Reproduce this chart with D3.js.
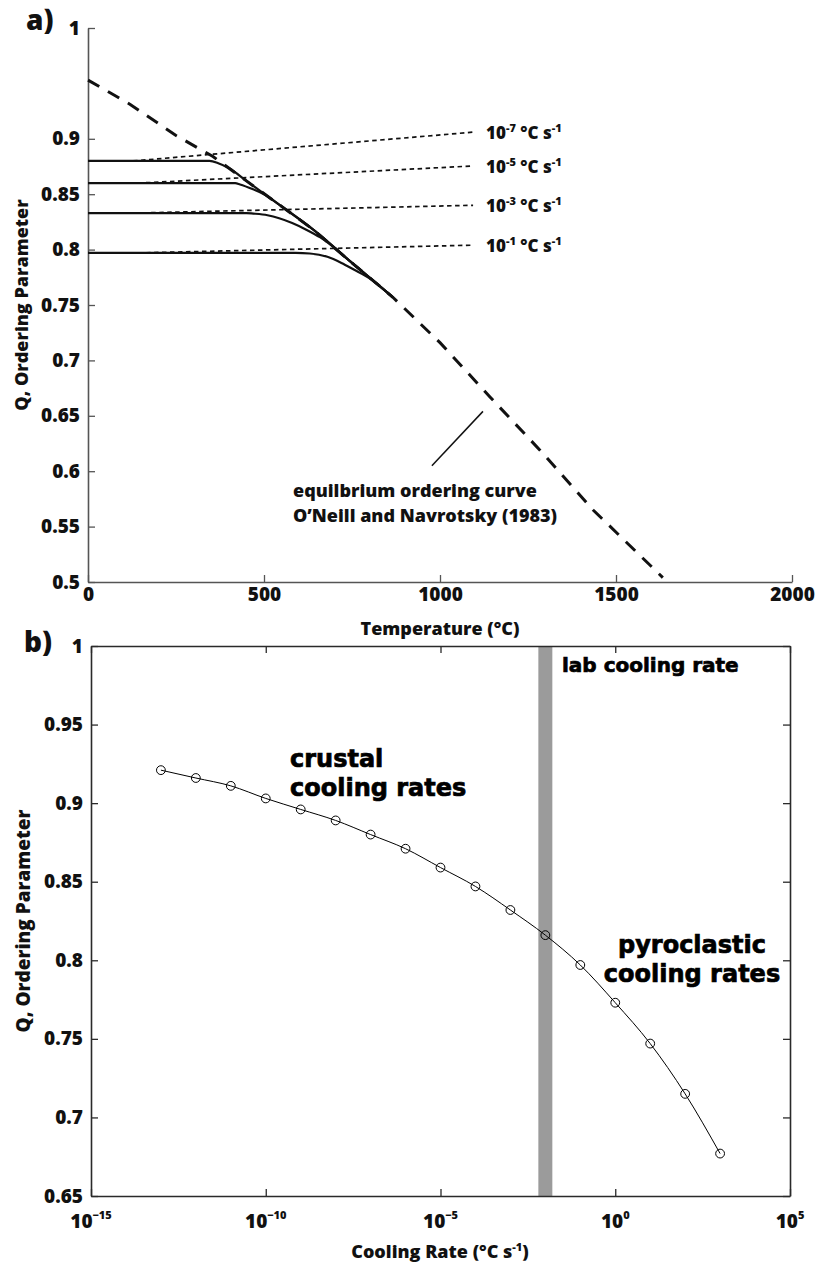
<!DOCTYPE html>
<html>
<head>
<meta charset="utf-8">
<script src="https://cdn.jsdelivr.net/npm/d3@7"></script>
<style>
  html, body { margin: 0; padding: 0; background: #fff; }
  svg { display: block; }
  text { font-family: 'Open Sans', 'Noto Sans', sans-serif; font-weight: 800; fill: #111; }
  .heavy { font-family: 'DejaVu Sans', sans-serif; font-weight: 700; fill: #000; stroke: #000; stroke-width: 0.7px; }
</style>
</head>
<body>
<script>
// ---------- Panel a: ordering parameter vs temperature ----------
const tempTicks = [0, 500, 1000, 1500, 2000];
const qTicksA = [0.5, 0.55, 0.6, 0.65, 0.7, 0.75, 0.8, 0.85, 0.9, 1];

// equilibrium ordering curve, O'Neill and Navrotsky (1983)
const eqTemp = [0, 120, 250, 355, 450, 550, 640, 750, 866, 1000, 1142, 1284, 1435, 1633];
const eqQ    = [0.953, 0.931, 0.903, 0.884, 0.862, 0.839, 0.818, 0.788, 0.757, 0.716, 0.667, 0.619, 0.565, 0.504];

// cooling paths (temperature, Q) for each cooling rate
const rateExpA = ["-7", "-5", "-3", "-1"];
const pathTemp7 = [0, 345, 370, 400, 450, 550, 640, 750, 866];
const pathQ7    = [0.880, 0.880, 0.878, 0.8736, 0.862, 0.839, 0.818, 0.788, 0.757];
const pathTemp5 = [0, 418, 432, 469, 500, 550, 640, 750, 866];
const pathQ5    = [0.860, 0.860, 0.8588, 0.8544, 0.850, 0.839, 0.818, 0.788, 0.757];
const pathTemp3 = [0, 450, 470, 510, 580, 620, 660, 750, 866];
const pathQ3    = [0.833, 0.833, 0.8325, 0.831, 0.824, 0.818, 0.811, 0.788, 0.757];
const pathTemp1 = [0, 590, 630, 680, 720, 755, 800, 866];
const pathQ1    = [0.797, 0.797, 0.7965, 0.7935, 0.788, 0.782, 0.774, 0.757];

// dotted leader lines from each plateau to its rate label
const leaderStartT = [128, 142, 134, 142];
const leaderEndT   = [1094, 1094, 1094, 1094];
const leaderEndQ   = [0.906, 0.8755, 0.840, 0.804];

// leader for the equilibrium curve note
const noteLeaderT = [977, 1122];
const noteLeaderQ = [0.605, 0.654];

// ---------- Panel b: ordering parameter vs cooling rate ----------
const rateExpB = [-13, -12, -11, -10, -9, -8, -7, -6, -5, -4, -3, -2, -1, 0, 1, 2, 3];
const orderQ   = [0.921, 0.916, 0.911, 0.903, 0.896, 0.889, 0.880, 0.871, 0.859, 0.847, 0.832, 0.816, 0.797, 0.773, 0.747, 0.715, 0.677];
const labRateExp = [-2.2, -1.8];
const rateTickExp = [-15, -10, -5, 0, 5];
const qTicksB = [0.65, 0.7, 0.75, 0.8, 0.85, 0.9, 0.95, 1];

const W = 817, H = 1273;
const svg = d3.select("body").append("svg").attr("width", W).attr("height", H);
svg.append("rect").attr("width", W).attr("height", H).attr("fill", "#fff");

const tickFont = 19;

function styleAxis(g, color) {
  g.attr("font-family", null).attr("font-size", null);
  g.selectAll(".domain").attr("stroke", color).attr("stroke-width", 1.6);
  g.selectAll(".tick line").attr("stroke", color).attr("stroke-width", 1.3);
  g.selectAll(".tick text").attr("font-size", tickFont).attr("fill", "#1a1a1a");
}

// ===== Panel a =====
const xA = d3.scaleLinear().domain([0, 2000]).range([88, 792]);
const yA = d3.scaleLinear().domain([0.5, 1]).range([582, 28]);

const gA = svg.append("g");

gA.append("g").attr("transform", `translate(0,${yA(0.5)})`)
  .call(d3.axisBottom(xA).tickValues(tempTicks).tickFormat(d3.format("d"))
        .tickSizeInner(-7).tickSizeOuter(0).tickPadding(5))
  .call(g => styleAxis(g, "#555"));

gA.append("g").attr("transform", `translate(${xA(0)},0)`)
  .call(d3.axisLeft(yA).tickValues(qTicksA).tickFormat(d => String(+d.toFixed(2)))
        .tickSizeInner(-7).tickSizeOuter(0).tickPadding(8))
  .call(g => styleAxis(g, "#555"));

// equilibrium curve (dashed)
const lineA = d3.line().x(d => xA(d[0])).y(d => yA(d[1]));
gA.append("path")
  .datum(d3.zip(eqTemp, eqQ))
  .attr("d", lineA)
  .attr("fill", "none").attr("stroke", "#111").attr("stroke-width", 3)
  .attr("stroke-dasharray", "13,10");

// dotted leaders
const plateauQ = [pathQ7[0], pathQ5[0], pathQ3[0], pathQ1[0]];
leaderStartT.forEach((t0, i) => {
  gA.append("line")
    .attr("x1", xA(t0)).attr("y1", yA(plateauQ[i]))
    .attr("x2", xA(leaderEndT[i])).attr("y2", yA(leaderEndQ[i]))
    .attr("stroke", "#111").attr("stroke-width", 1.7)
    .attr("stroke-dasharray", "4.5,3.5");
});

// cooling paths (solid)
const pathLine = d3.line().x(d => xA(d[0])).y(d => yA(d[1])).curve(d3.curveMonotoneX);
[[pathTemp7, pathQ7], [pathTemp5, pathQ5], [pathTemp3, pathQ3], [pathTemp1, pathQ1]].forEach(([t, q]) => {
  gA.append("path")
    .datum(d3.zip(t, q))
    .attr("d", pathLine)
    .attr("fill", "none").attr("stroke", "#111").attr("stroke-width", 2.2);
});

// rate labels at the end of each leader
rateExpA.forEach((e, i) => {
  const t = gA.append("text")
    .attr("x", xA(leaderEndT[i]) + 13)
    .attr("y", yA(leaderEndQ[i]) + 7)
    .attr("font-size", 17);
  t.append("tspan").text("10");
  t.append("tspan").attr("dy", -7).attr("font-size", 11).text(e);
  t.append("tspan").attr("dy", 7).text(" °C s");
  t.append("tspan").attr("dy", -7).attr("font-size", 11).text("-1");
});

// equilibrium curve note
gA.append("line")
  .attr("x1", xA(noteLeaderT[0])).attr("y1", yA(noteLeaderQ[0]))
  .attr("x2", xA(noteLeaderT[1])).attr("y2", yA(noteLeaderQ[1]))
  .attr("stroke", "#111").attr("stroke-width", 1.5);
gA.append("text").attr("x", 293).attr("y", 497).attr("font-size", 18)
  .text("equilbrium ordering curve");
gA.append("text").attr("x", 293).attr("y", 522).attr("font-size", 18)
  .text("O’Neill and Navrotsky (1983)");

// titles
gA.append("text").attr("x", 440).attr("y", 635).attr("text-anchor", "middle")
  .attr("font-size", 18).text("Temperature (°C)");
gA.append("text").attr("transform", `translate(28,${(yA(0.5) + yA(1)) / 2}) rotate(-90)`)
  .attr("text-anchor", "middle").attr("font-size", 18).text("Q, Ordering Parameter");
gA.append("text").attr("x", 26).attr("y", 30).attr("font-size", 28).text("a)");

// ===== Panel b =====
const xB = d3.scaleLog().domain([1e-15, 1e5]).range([91, 790]);
const yB = d3.scaleLinear().domain([0.65, 1]).range([1196, 646]);
const gB = svg.append("g");

// lab cooling-rate band
gB.append("rect")
  .attr("x", xB(Math.pow(10, labRateExp[0])))
  .attr("y", yB(1))
  .attr("width", xB(Math.pow(10, labRateExp[1])) - xB(Math.pow(10, labRateExp[0])))
  .attr("height", yB(0.65) - yB(1))
  .attr("fill", "#9b9b9b");

const rateTicks = rateTickExp.map(e => Math.pow(10, e));
gB.append("g").attr("transform", `translate(0,${yB(0.65)})`)
  .call(d3.axisBottom(xB).tickValues(rateTicks).tickFormat("").tickSizeInner(-7).tickSizeOuter(0))
  .call(g => styleAxis(g, "#2a2a2a"));
gB.append("g").attr("transform", `translate(0,${yB(1)})`)
  .call(d3.axisTop(xB).tickValues(rateTicks).tickFormat("").tickSizeInner(-7).tickSizeOuter(0))
  .call(g => styleAxis(g, "#2a2a2a"));
gB.append("g").attr("transform", `translate(${xB(1e-15)},0)`)
  .call(d3.axisLeft(yB).tickValues(qTicksB).tickFormat(d => String(+d.toFixed(2)))
        .tickSizeInner(-7).tickSizeOuter(0).tickPadding(8))
  .call(g => styleAxis(g, "#2a2a2a"));
gB.append("g").attr("transform", `translate(${xB(1e5)},0)`)
  .call(d3.axisRight(yB).tickValues(qTicksB).tickFormat("").tickSizeInner(-7).tickSizeOuter(0))
  .call(g => styleAxis(g, "#2a2a2a"));

// power-of-ten tick labels
rateTickExp.forEach(e => {
  const t = gB.append("text").attr("x", xB(Math.pow(10, e))).attr("y", 1228)
    .attr("text-anchor", "middle").attr("font-size", tickFont).attr("fill", "#1a1a1a");
  t.append("tspan").text("10");
  t.append("tspan").attr("dy", -9).attr("font-size", 11).text(e < 0 ? "−" + Math.abs(e) : String(e));
});

// model results
const lineB = d3.line().x(d => xB(Math.pow(10, d[0]))).y(d => yB(d[1])).curve(d3.curveMonotoneX);
const ptsB = d3.zip(rateExpB, orderQ);
gB.append("path").datum(ptsB).attr("d", lineB)
  .attr("fill", "none").attr("stroke", "#000").attr("stroke-width", 1);
gB.selectAll("circle.pt").data(ptsB).join("circle")
  .attr("class", "pt")
  .attr("cx", d => xB(Math.pow(10, d[0]))).attr("cy", d => yB(d[1]))
  .attr("r", 4.4).attr("fill", "none").attr("stroke", "#000").attr("stroke-width", 1);

// region labels
gB.append("text").attr("class", "heavy").attr("x", 562).attr("y", 672).attr("font-size", 20)
  .text("lab cooling rate");
gB.append("text").attr("class", "heavy").attr("x", 290).attr("y", 767).attr("font-size", 24).text("crustal");
gB.append("text").attr("class", "heavy").attr("x", 290).attr("y", 796).attr("font-size", 24).text("cooling rates");
gB.append("text").attr("class", "heavy").attr("x", 692).attr("y", 953).attr("font-size", 24)
  .attr("text-anchor", "middle").text("pyroclastic");
gB.append("text").attr("class", "heavy").attr("x", 692).attr("y", 982).attr("font-size", 24)
  .attr("text-anchor", "middle").text("cooling rates");

// titles
const xt = gB.append("text").attr("x", 440).attr("y", 1258).attr("text-anchor", "middle").attr("font-size", 18);
xt.append("tspan").text("Cooling Rate (°C s");
xt.append("tspan").attr("dy", -7).attr("font-size", 11).text("-1");
xt.append("tspan").attr("dy", 7).text(")");
gB.append("text").attr("transform", `translate(30,${(yB(0.65) + yB(1)) / 2}) rotate(-90)`)
  .attr("text-anchor", "middle").attr("font-size", 19).text("Q, Ordering Parameter");
gB.append("text").attr("x", 24).attr("y", 652).attr("font-size", 28).text("b)");
</script>
</body>
</html>
